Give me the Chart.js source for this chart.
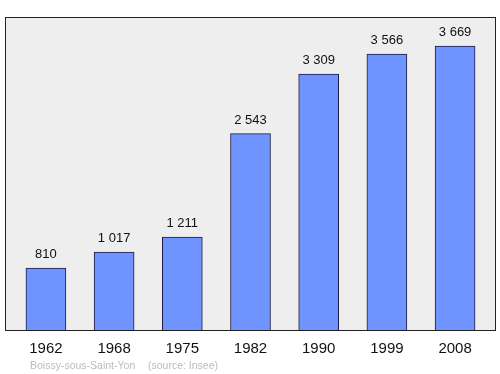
<!DOCTYPE html>
<html><head><meta charset="utf-8">
<script src="https://cdn.jsdelivr.net/npm/chart.js@4"></script>
<style>html,body{margin:0;padding:0;background:#fff}#wrap{width:500px;height:374px}</style>
</head><body><div id="wrap"><canvas id="c" width="500" height="374"></canvas></div>
<script>
const years = ["1962","1968","1975","1982","1990","1999","2008"];
const population = [810, 1017, 1211, 2543, 3309, 3566, 3669];
const valueLabels = ["810","1 017","1 211","2 543","3 309","3 566","3 669"];
const placeName = "Boissy-sous-Saint-Yon";
const sourceText = "(source: Insee)";

const framePlugin = {
  id: 'frame',
  beforeDatasetsDraw(chart) {
    const {ctx, chartArea: a} = chart;
    ctx.save();
    ctx.fillStyle = '#eeeeee';
    ctx.fillRect(a.left, a.top, a.right - a.left, a.bottom - a.top);
    ctx.restore();
  },
  afterDatasetsDraw(chart) {
    const {ctx, chartArea: a} = chart;
    ctx.save();
    ctx.strokeStyle = '#222222';
    ctx.lineWidth = 1;
    ctx.strokeRect(a.left + 0.5, a.top + 0.5, a.right - a.left - 1, a.bottom - a.top - 1);
    const meta = chart.getDatasetMeta(0);
    ctx.fillStyle = '#111111';
    ctx.font = '13px "Liberation Sans", Arial, sans-serif';
    ctx.textAlign = 'center';
    ctx.textBaseline = 'alphabetic';
    meta.data.forEach((bar, i) => {
      ctx.fillText(valueLabels[i], bar.x, bar.y - 10);
    });
    ctx.fillStyle = '#bbbbbb';
    ctx.font = '10.5px "Liberation Sans", Arial, sans-serif';
    ctx.textAlign = 'left';
    ctx.fillText(placeName, 30, 369);
    ctx.fillText(sourceText, 148, 369);
    ctx.restore();
  }
};

new Chart(document.getElementById('c'), {
  type: 'bar',
  data: {
    datasets: [{
      data: population.map((v, i) => ({x: i, y: v})),
      backgroundColor: '#7094ff',
      borderColor: '#1a1a40',
      borderWidth: 1,
      barThickness: 40
    }]
  },
  options: {
    responsive: false,
    animation: false,
    layout: {padding: {left: 5, right: 4, top: 17, bottom: 15}},
    plugins: {legend: {display: false}, tooltip: {enabled: false}},
    scales: {
      x: {
        type: 'linear',
        offset: false,
        min: -0.6, max: 6.6,
        grid: {display: false},
        border: {display: false},
        afterBuildTicks(scale) {
          scale.ticks = years.map((y, i) => ({value: i}));
        },
        ticks: {
          autoSkip: false,
          maxRotation: 0,
          padding: 1,
          color: '#111111',
          font: {size: 15, family: '"Liberation Sans", Arial, sans-serif'},
          callback: (v) => years[v] ?? ''
        }
      },
      y: {
        display: false,
        min: 0, max: 4045
      }
    }
  },
  plugins: [framePlugin]
});
</script>
</body></html>
